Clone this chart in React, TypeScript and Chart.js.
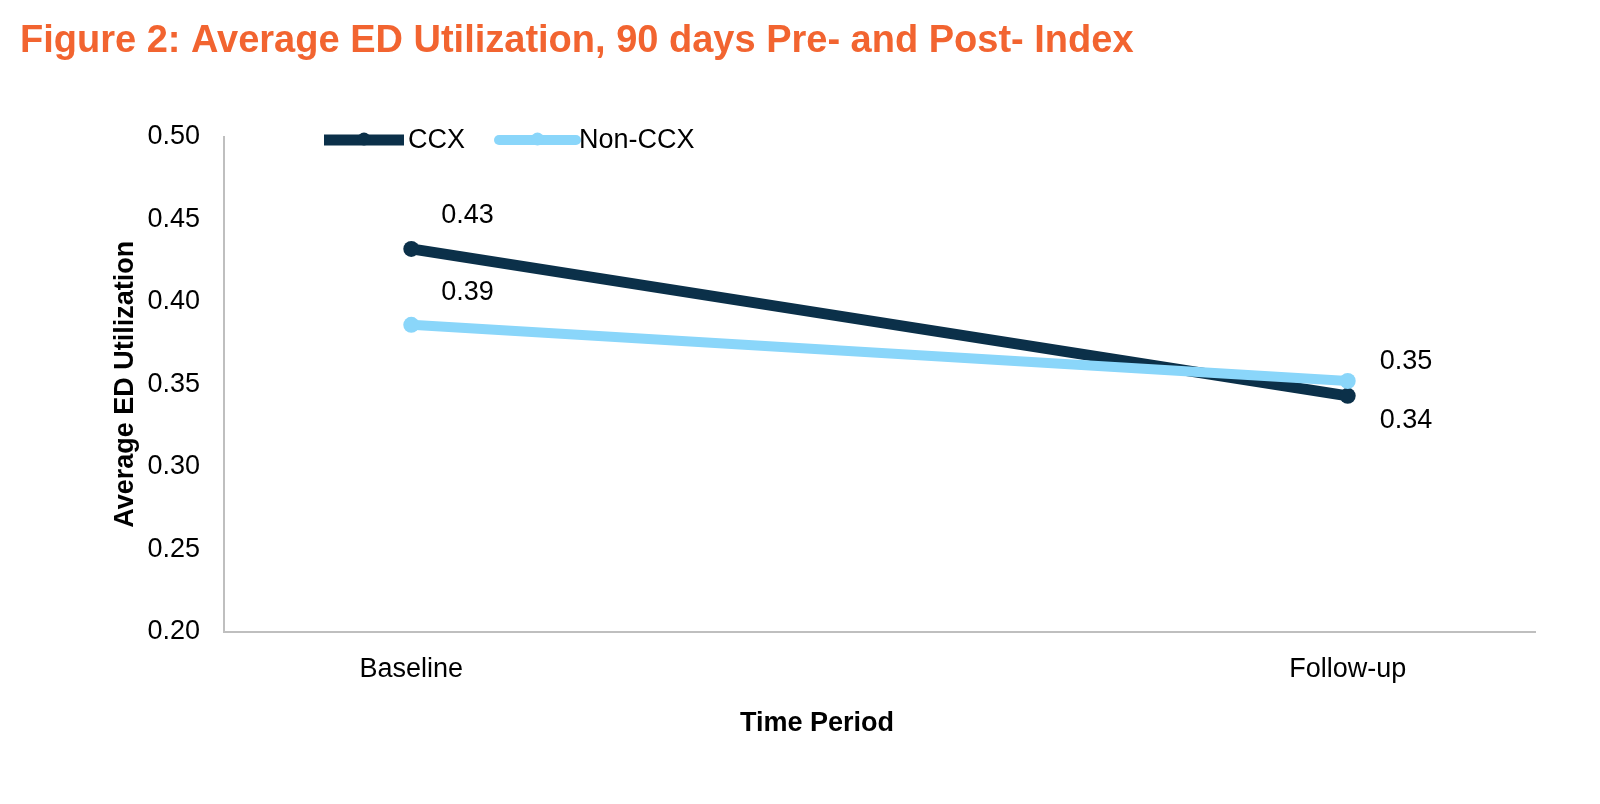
import React, { useEffect, useRef } from "react";
import { Chart, registerables } from "chart.js";

Chart.register(...registerables);

// ---- data ----
const categories = ["Baseline", "Follow-up"];
const seriesNames = ["CCX", "Non-CCX"];
const ccxValues = [0.432, 0.343];
const nonCcxValues = [0.386, 0.352];
const ccxLabels = ["0.43", "0.34"];
const nonCcxLabels = ["0.39", "0.35"];
const yMin = 0.2;
const yMax = 0.5;
const yStep = 0.05;

// ---- styles ----
const FONT = "'Liberation Sans', Arial, Helvetica, sans-serif";
const NAVY = "#0B3049";
const LIGHT = "#8AD6FA";
const ORANGE = "#F26430";
const AXIS = "#BFBFBF";

// label placement (px offsets from each point)
const ccxLabelOffsets = [
  { dx: 30, dy: -33 },
  { dx: 32, dy: 25 },
];
const nonCcxLabelOffsets = [
  { dx: 30, dy: -32 },
  { dx: 32, dy: -19 },
];

const overlayPlugin = {
  id: "overlay",
  afterDatasetsDraw(chart: any) {
    const ctx = chart.ctx;
    ctx.save();
    // data labels
    ctx.font = `27px ${FONT}`;
    ctx.fillStyle = "#000";
    ctx.textAlign = "left";
    ctx.textBaseline = "middle";
    const sets = [
      { idx: 0, labels: ccxLabels, offs: ccxLabelOffsets },
      { idx: 1, labels: nonCcxLabels, offs: nonCcxLabelOffsets },
    ];
    sets.forEach((s) => {
      const meta = chart.getDatasetMeta(s.idx);
      meta.data.forEach((pt: any, i: number) => {
        ctx.fillText(s.labels[i], pt.x + s.offs[i].dx, pt.y + s.offs[i].dy);
      });
    });

    // legend
    const ly = 140;
    const items = [
      { name: seriesNames[0], color: NAVY, x0: 324, x1: 404, cap: "butt", w: 11, tx: 408 },
      { name: seriesNames[1], color: LIGHT, x0: 499, x1: 576, cap: "round", w: 10, tx: 579 },
    ];
    items.forEach((it) => {
      ctx.strokeStyle = it.color;
      ctx.lineWidth = it.w;
      ctx.lineCap = it.cap;
      ctx.beginPath();
      ctx.moveTo(it.x0, ly);
      ctx.lineTo(it.x1, ly);
      ctx.stroke();
      ctx.fillStyle = it.color;
      ctx.beginPath();
      ctx.arc((it.x0 + it.x1) / 2, ly - 1, 6.5, 0, Math.PI * 2);
      ctx.fill();
      ctx.fillStyle = "#000";
      ctx.font = `27px ${FONT}`;
      ctx.textAlign = "left";
      ctx.textBaseline = "middle";
      ctx.fillText(it.name, it.tx, ly + 1);
    });

    // x axis title
    ctx.font = `bold 27px ${FONT}`;
    ctx.textAlign = "center";
    ctx.textBaseline = "middle";
    ctx.fillStyle = "#000";
    ctx.fillText("Time Period", 817, 724);
    ctx.restore();
  },
};

export default function App() {
  const canvasRef = useRef<HTMLCanvasElement | null>(null);

  useEffect(() => {
    const canvas = canvasRef.current;
    if (!canvas) return;
    const chart = new Chart(canvas, {
      type: "line",
      data: {
        datasets: [
          {
            label: seriesNames[0],
            data: ccxValues.map((v, i) => ({ x: i, y: v })),
            borderColor: NAVY,
            backgroundColor: NAVY,
            borderWidth: 11,
            pointRadius: 8,
            pointBackgroundColor: NAVY,
            pointBorderWidth: 0,
            order: 1,
          },
          {
            label: seriesNames[1],
            data: nonCcxValues.map((v, i) => ({ x: i, y: v })),
            borderColor: LIGHT,
            backgroundColor: LIGHT,
            borderWidth: 10,
            pointRadius: 8,
            pointBackgroundColor: LIGHT,
            pointBorderWidth: 0,
            order: 0,
          },
        ],
      },
      options: {
        responsive: false,
        animation: false,
        devicePixelRatio: 1,
        layout: { padding: { left: 20, right: 65, top: 0, bottom: 0 } },
        plugins: {
          legend: { display: false },
          tooltip: { enabled: false },
          title: {
            display: true,
            text: "Figure 2: Average ED Utilization, 90 days Pre- and Post- Index",
            align: "start",
            color: ORANGE,
            font: { family: FONT, size: 38, weight: "bold" },
            padding: { top: 19, bottom: 72 },
          },
        },
        scales: {
          x: {
            type: "linear",
            min: -0.2,
            max: 1.2,
            grid: { display: false, drawTicks: false },
            border: { display: true, color: AXIS, width: 2 },
            afterBuildTicks: (scale: any) => {
              scale.ticks = categories.map((_, i) => ({ value: i }));
            },
            afterFit: (scale: any) => {
              scale.height = 172;
            },
            ticks: {
              autoSkip: false,
              maxRotation: 0,
              minRotation: 0,
              padding: 21,
              color: "#000",
              font: { family: FONT, size: 27 },
              callback: (v: any) => categories[v] ?? "",
            },
          },
          y: {
            min: yMin,
            max: yMax,
            grid: { display: false, drawTicks: false },
            border: { display: true, color: AXIS, width: 2 },
            afterFit: (scale: any) => {
              scale.width = 204;
            },
            ticks: {
              stepSize: yStep,
              padding: 24,
              color: "#000",
              font: { family: FONT, size: 27 },
              callback: (v: any) => Number(v).toFixed(2),
            },
            title: {
              display: true,
              text: "Average ED Utilization",
              color: "#000",
              font: { family: FONT, size: 27, weight: "bold" },
              padding: { top: 89, bottom: 0 },
            },
          },
        },
      },
      plugins: [overlayPlugin],
    });
    return () => chart.destroy();
  }, []);

  return (
    <div style={{ position: "absolute", left: 0, top: 0, width: 1600, height: 804, background: "#fff" }}>
      <canvas ref={canvasRef} width={1600} height={804} style={{ display: "block" }} />
    </div>
  );
}
